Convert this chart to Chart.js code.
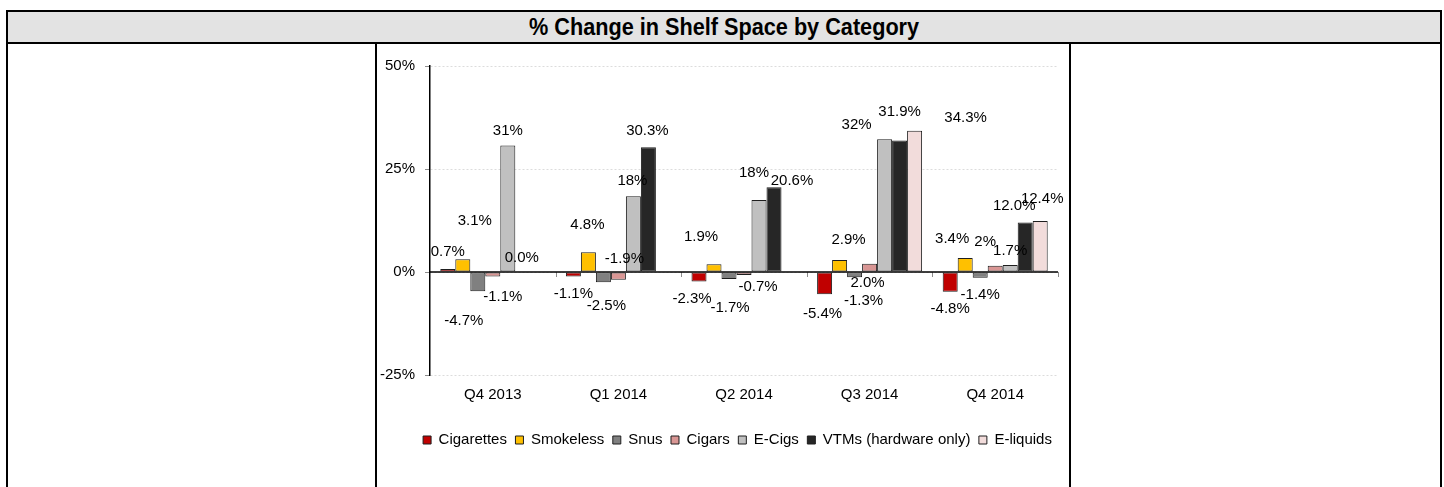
<!DOCTYPE html>
<html>
<head>
<meta charset="utf-8">
<script src="https://cdn.jsdelivr.net/npm/chart.js@4/dist/chart.umd.min.js"></script>
<style>
  html, body { margin:0; padding:0; background:#fff; width:1444px; height:487px; overflow:hidden; }
  .abs { position:absolute; box-sizing:border-box; }
  #outer { left:6px; top:10px; width:1436px; height:500px; border:2px solid #000; border-bottom:0; }
  #titlebar { left:8px; top:12px; width:1432px; height:32px; background:#e3e3e3; border-bottom:2px solid #000;
              display:flex; align-items:center; justify-content:center; }
  #title { display:inline-block; white-space:nowrap; font-family:"Liberation Sans Narrow","Arial Narrow","Liberation Sans",Arial,sans-serif;
           font-weight:bold; font-size:23px; color:#000; transform-origin:center center; line-height:1; }
  .vline { top:44px; width:2px; height:460px; background:#000; }
  #wrap { left:377px; top:44px; width:692px; height:443px; }
</style>
</head>
<body>
<div id="outer" class="abs"></div>
<div id="titlebar" class="abs"><span id="title">% Change in Shelf Space by Category</span></div>
<div class="abs vline" style="left:375px"></div>
<div class="abs vline" style="left:1069px"></div>
<div id="wrap" class="abs"><canvas id="c" width="692" height="443"></canvas></div>
<script>
// ---- data ----
const categories = ['Q4 2013', 'Q1 2014', 'Q2 2014', 'Q3 2014', 'Q4 2014'];
const seriesNames = ['Cigarettes', 'Smokeless', 'Snus', 'Cigars', 'E-Cigs', 'VTMs (hardware only)', 'E-liquids'];
const cigarettes = [0.7, -1.1, -2.3, -5.4, -4.8];
const smokeless  = [3.1, 4.8, 1.9, 2.9, 3.4];
const snus       = [-4.7, -2.5, -1.7, -1.3, -1.4];
const cigars     = [-1.1, -1.9, -0.7, 2.0, 1.5];
const eCigs      = [30.7, 18.4, 17.5, 32.2, 1.7];
const vtms       = [0.0, 30.3, 20.6, 31.9, 12.0];
const eLiquids   = [null, null, null, 34.3, 12.4];
const cigarettesLabels = ['0.7%', '-1.1%', '-2.3%', '-5.4%', '-4.8%'];
const smokelessLabels  = ['3.1%', '4.8%', '1.9%', '2.9%', '3.4%'];
const snusLabels       = ['-4.7%', '-2.5%', '-1.7%', '-1.3%', '-1.4%'];
const cigarsLabels     = ['-1.1%', '-1.9%', '-0.7%', '2.0%', '2%'];
const eCigsLabels      = ['31%', '18%', '18%', '32%', '1.7%'];
const vtmsLabels       = ['0.0%', '30.3%', '20.6%', '31.9%', '12.0%'];
const eLiquidsLabels   = [null, null, null, '34.3%', '12.4%'];
const yTickValues = [-25, 0, 25, 50];

// ---- styling ----
const fills   = ['#c00000', '#ffc000', '#808080', '#d99694', '#c0c0c0', '#262626', '#f2dcdb'];
const strokes = '#1e1e1e';
// label offsets (px) relative to the bar end, per series / category
const labelOffsets = [
  [[0,-17],[0,17],[-7,17],[-2,20],[0,17]],
  [[12,-38],[-1,-27],[-13,-27],[9,-20],[-13,-19]],
  [[-14,29],[3,24],[1,29],[9,24],[0,17]],
  [[10,20],[6,-21],[14,12],[-2,19],[-10,-24]],
  [[0,-15],[-1,-15],[-5,-27],[-28,-14],[0,-14]],
  [[-1,-14],[-1,-16],[18,-6],[0,-29],[-11,-17]],
  [null,null,null,[51,-13],[2,-22]]
];
const legendShift = 20;

const seriesValues = [cigarettes, smokeless, snus, cigars, eCigs, vtms, eLiquids];
const seriesLabels = [cigarettesLabels, smokelessLabels, snusLabels, cigarsLabels, eCigsLabels, vtmsLabels, eLiquidsLabels];

const FONT = '"Liberation Sans", Arial, sans-serif';
Chart.defaults.font.family = FONT;
Chart.defaults.font.size = 15;
Chart.defaults.color = '#000';

const baseLinePlugin = {
  id: 'baseLine',
  afterLayout(chart) {
    if (chart.legend) { chart.legend.left += legendShift; chart.legend.right += legendShift; }
  },
  beforeDatasetsDraw(chart) {
    const ctx = chart.ctx, xs = chart.scales.x, ys = chart.scales.y;
    const y0 = ys.getPixelForValue(0);
    const {left, right} = chart.chartArea;
    ctx.save();
    ctx.strokeStyle = '#8c8c8c'; ctx.lineWidth = 1;
    for (let k = 1; k <= categories.length; k++) {
      const x = Math.round(xs.getPixelForValue(k - 0.5)) + 0.5;
      ctx.beginPath(); ctx.moveTo(x, y0); ctx.lineTo(x, y0 + 5); ctx.stroke();
    }
    ctx.strokeStyle = '#000'; ctx.lineWidth = 1.5;
    ctx.beginPath(); ctx.moveTo(left, y0); ctx.lineTo(right, y0); ctx.stroke();
    ctx.restore();
  }
};

const barLabelPlugin = {
  id: 'barLabels',
  afterDatasetsDraw(chart) {
    const ctx = chart.ctx;
    ctx.save();
    ctx.font = '15px ' + FONT;
    ctx.fillStyle = '#000';
    ctx.textAlign = 'center';
    ctx.textBaseline = 'middle';
    chart.data.datasets.forEach((ds, i) => {
      const meta = chart.getDatasetMeta(i);
      meta.data.forEach((el, j) => {
        const txt = seriesLabels[i][j];
        const off = labelOffsets[i][j];
        if (txt == null || !off) return;
        ctx.fillText(txt, el.x + off[0], el.y + off[1]);
      });
    });
    ctx.restore();
  }
};

new Chart(document.getElementById('c'), {
  type: 'bar',
  data: {
    labels: categories,
    datasets: seriesNames.map((name, i) => ({
      label: name,
      data: seriesValues[i],
      backgroundColor: fills[i],
      borderColor: strokes,
      borderWidth: 1,
      borderSkipped: false
    }))
  },
  options: {
    responsive: false,
    animation: false,
    devicePixelRatio: 1,
    layout: { padding: { left: 0, right: 11, top: 22, bottom: 29.5 } },
    datasets: { bar: { categoryPercentage: 0.836, barPercentage: 1 } },
    scales: {
      x: {
        grid: { display: false, drawTicks: false },
        border: { display: false },
        ticks: { color: '#000', font: { size: 15 }, padding: 11 },
        afterFit(s) { s.height = 49; }
      },
      y: {
        min: -25, max: 50,
        afterBuildTicks(s) { s.ticks = yTickValues.map(v => ({ value: v })); },
        ticks: { color: '#000', font: { size: 15 }, padding: 10, callback: v => v + '%' },
        grid: { color: '#dcdcdc', lineWidth: 1, tickColor: '#8c8c8c', tickLength: 5, tickBorderDash: [] },
        border: { display: true, color: '#000', width: 1.5, dash: [2, 2] },
        afterFit(s) { s.width = 53; }
      }
    },
    plugins: {
      legend: {
        position: 'bottom',
        fullSize: true,
        labels: { boxWidth: 8, boxHeight: 8, padding: 8.5, color: '#000', font: { size: 15 } }
      },
      tooltip: { enabled: false },
      title: { display: false }
    }
  },
  plugins: [baseLinePlugin, barLabelPlugin]
});

// fit the title to the reference width
const t = document.getElementById('title');
const w = t.offsetWidth;
if (w > 0) t.style.transform = 'scaleX(' + (390 / w) + ')';
</script>
</body>
</html>
